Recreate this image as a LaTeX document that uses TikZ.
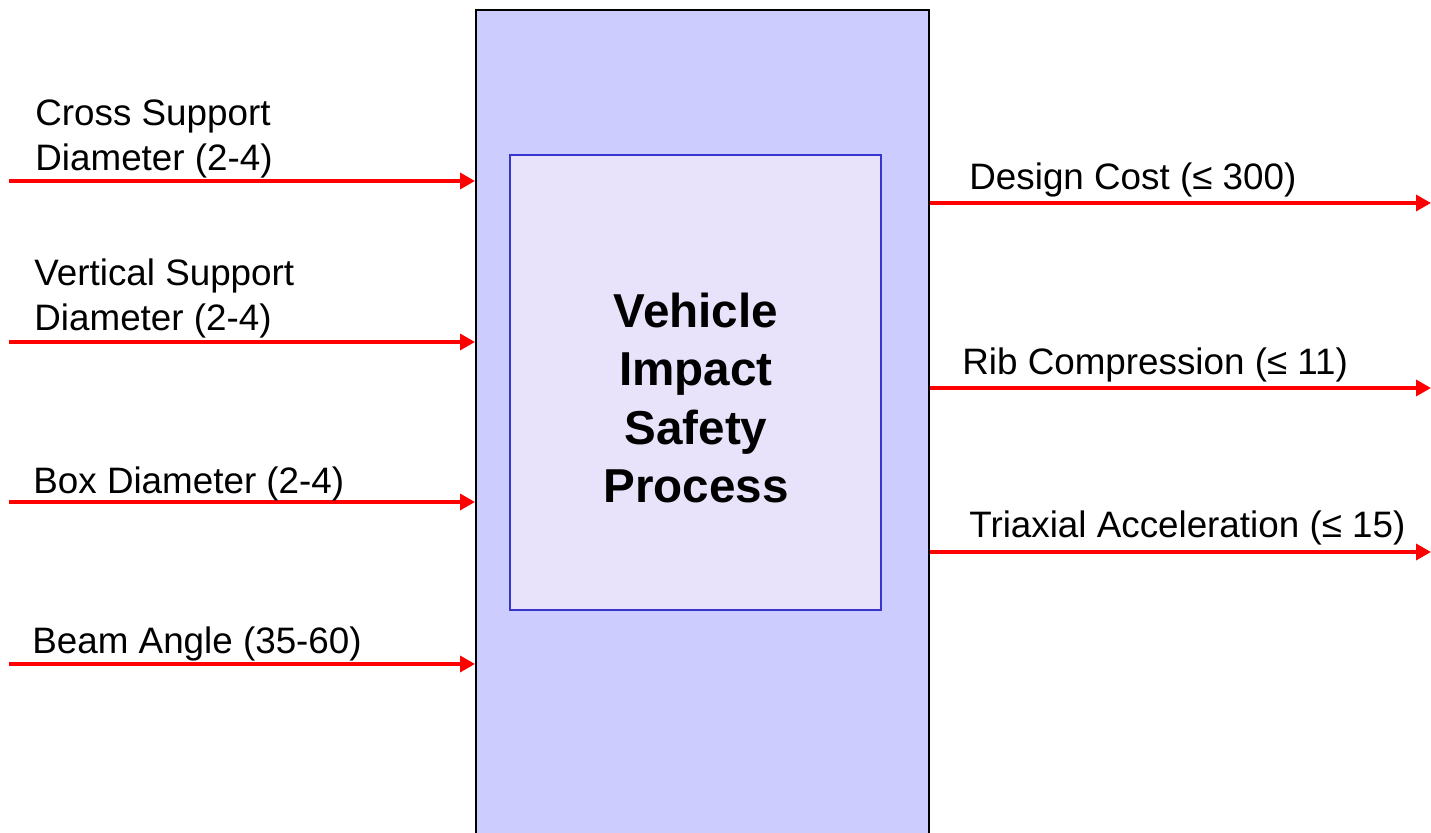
\documentclass[tikz,border=0pt]{standalone}
\usepackage{fontspec}
\setmainfont{Liberation Sans}
\usetikzlibrary{arrows.meta,positioning}
\definecolor{Lilac}{HTML}{CCCCFF}
\definecolor{LilacLight}{HTML}{E8E2FA}
\definecolor{Indigo}{HTML}{3636CC}
\definecolor{Signal}{HTML}{FF0000}

\begin{document}
\begin{tikzpicture}[x=0.5pt,y=-0.5pt, every node/.style={font=\fontsize{18.4}{22.5}\selectfont,align=left,inner sep=0pt},
  flow/.style={-{Triangle[length=7.5pt,width=8pt]},Signal,line width=1.7pt}]
\useasboundingbox (0,0) rectangle (1431,833);
\node[draw=black,line width=1pt,fill=Lilac,minimum width=226.5pt,minimum height=460pt,anchor=north west] (proc) at (475,9) {};
\node[draw=Indigo,line width=0.8pt,fill=LilacLight,minimum width=185.5pt,minimum height=227.5pt] (core) at (695.5,382.5) {};
\node[font=\bfseries\fontsize{23.8}{29.2}\selectfont,align=center] (title) at (696,398) {Vehicle\\Impact\\Safety\\Process};
% inputs
\coordinate (in1) at (9,181);\coordinate (in2) at (9,342);\coordinate (in3) at (9,502);\coordinate (in4) at (9,664);
\draw[flow] (in1)--(in1 -| proc.west);\draw[flow] (in2)--(in2 -| proc.west);\draw[flow] (in3)--(in3 -| proc.west);\draw[flow] (in4)--(in4 -| proc.west);
\node[anchor=base west] (l1) at (35,171) {Cross Support\\Diameter (2-4)};
\node[anchor=base west] (l2) at (34,331) {Vertical Support\\Diameter (2-4)};
\node[anchor=base west] (l3) at (33,494) {Box Diameter (2-4)};
\node[anchor=base west] (l4) at (32,654) {Beam Angle (35-60)};
% outputs
\coordinate (out1) at (1431,203);\coordinate (out2) at (1431,388);\coordinate (out3) at (1431,552);
\draw[flow] (out1 -| proc.east)--(out1);\draw[flow] (out2 -| proc.east)--(out2);\draw[flow] (out3 -| proc.east)--(out3);
\node[anchor=base west] (r1) at (969,190) {Design Cost (≤ 300)};
\node[anchor=base west] (r2) at (962,375) {Rib Compression (≤ 11)};
\node[anchor=base west] (r3) at (969,538) {Triaxial Acceleration (≤ 15)};
\end{tikzpicture}
\end{document}
